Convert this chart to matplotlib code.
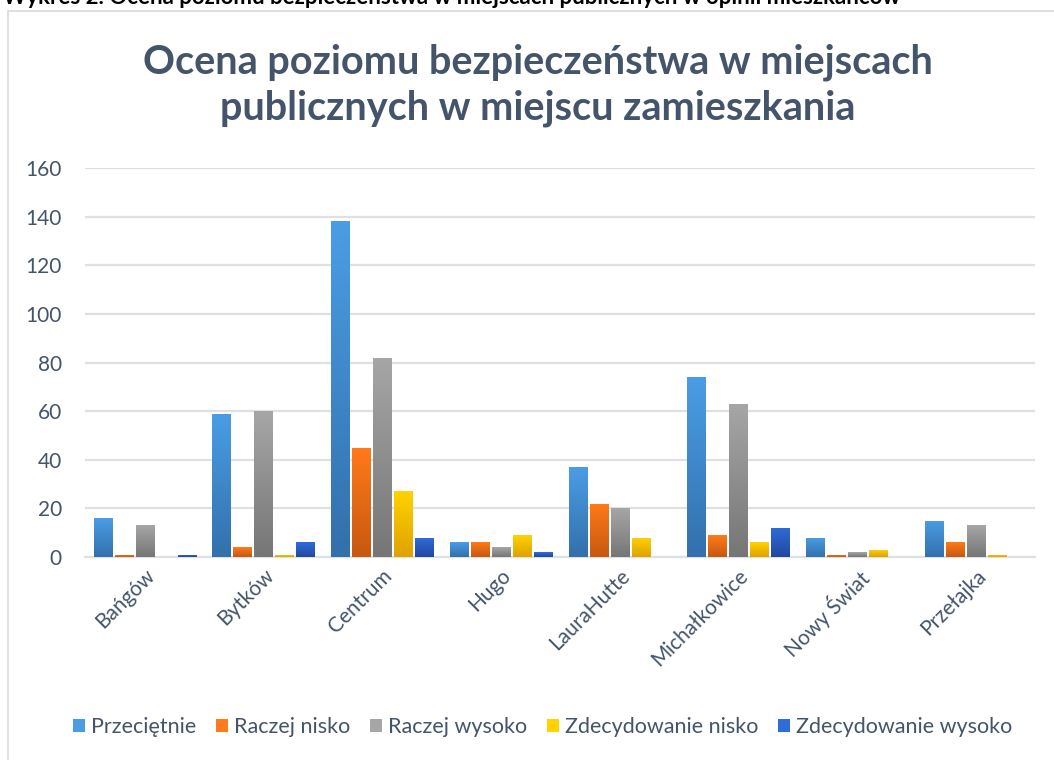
import matplotlib
matplotlib.use("Agg")
import matplotlib.pyplot as plt
import numpy as np
from matplotlib.colors import LinearSegmentedColormap
from matplotlib.patches import Rectangle

plt.rcParams["font.family"] = ["Lato", "DejaVu Sans"]

categories = ["Bańgów", "Bytków", "Centrum", "Hugo", "LauraHutte",
              "Michałkowice", "Nowy Świat", "Przełajka"]
series_names = ["Przeciętnie", "Raczej nisko", "Raczej wysoko",
                "Zdecydowanie nisko", "Zdecydowanie wysoko"]
przecietnie = [16, 59, 138, 6, 37, 74, 8, 15]
raczej_nisko = [1, 4, 45, 6, 22, 9, 1, 6]
raczej_wysoko = [13, 60, 82, 4, 20, 63, 2, 13]
zdec_nisko = [0, 1, 27, 9, 8, 6, 3, 1]
zdec_wysoko = [1, 6, 8, 2, 0, 12, 0, 0]
series_values = [przecietnie, raczej_nisko, raczej_wysoko, zdec_nisko, zdec_wysoko]

# (top, bottom) gradient colours per series
gradients = [("#4A9DE4", "#3370AC"), ("#FF7A1A", "#C75810"), ("#A6A6A6", "#767676"),
             ("#FFD200", "#DFA200"), ("#2F6CDA", "#2148A0")]
text_color = "#44546A"
grid_color = "#DDE1E6"

fig = plt.figure(figsize=(10.54, 7.6), dpi=100)
ax = fig.add_axes([0.081, 0.267, 0.901, 0.512])

n = len(series_names)
width = 0.152
step = 0.177
x = np.arange(len(categories))
for i, (vals, (top, bot)) in enumerate(zip(series_values, gradients)):
    cmap = LinearSegmentedColormap.from_list(series_names[i], [bot, top])
    offs = (i - (n - 1) / 2) * step
    for xi, v in zip(x, vals):
        if v <= 0:
            continue
        left = xi + offs - width / 2
        img = ax.imshow(np.linspace(0, 1, 64).reshape(-1, 1), cmap=cmap, origin="lower",
                        extent=(left, left + width, 0, v), aspect="auto", zorder=3,
                        interpolation="bilinear")
        clip = Rectangle((left, 0), width, v, transform=ax.transData)
        img.set_clip_path(clip)

ax.set_xlim(-0.5, len(categories) - 0.5)
ax.set_ylim(0, 160)
ax.set_yticks(range(0, 161, 20))
ax.yaxis.grid(True, color=grid_color, linewidth=1.6, zorder=0)
ax.set_axisbelow(True)
for side in ["top", "right", "left"]:
    ax.spines[side].set_visible(False)
ax.spines["bottom"].set_color(grid_color)
ax.spines["bottom"].set_linewidth(1.6)
ax.tick_params(axis="both", length=0, labelsize=15, colors=text_color, pad=6)
ax.tick_params(axis="y", pad=17)
ax.set_xticks(x)
ax.set_xticklabels(categories, rotation=45, ha="right", rotation_mode="anchor")

fig.text(0.51, 0.888, "Ocena poziomu bezpieczeństwa w miejscach\npublicznych w miejscu zamieszkania",
         ha="center", va="center", fontsize=28.5, fontweight="bold", color=text_color,
         linespacing=1.3)

# caption above the chart frame, cut by the top edge as in the source
fig.text(0.003, 0.9945, "Wykres 2. Ocena poziomu bezpieczeństwa w miejscach publicznych w opinii mieszkańców",
         ha="left", va="baseline", fontsize=16, fontweight="bold", color="black")

# chart frame
fig.patches.append(Rectangle((0.008, -0.05), 1.2, 1.036, transform=fig.transFigure,
                             fill=False, edgecolor="#D9D9D9", linewidth=1.2))

handles = [Rectangle((0, 0), 1, 1, facecolor=top, edgecolor="none") for top, _ in gradients]
fig.legend(handles, series_names, loc="center", bbox_to_anchor=(0.515, 0.043), ncol=5,
           frameon=False, fontsize=15.5, handlelength=0.55, handleheight=0.55,
           handletextpad=0.3, columnspacing=0.9, labelcolor=text_color)

fig.savefig("out.png", dpi=100)
